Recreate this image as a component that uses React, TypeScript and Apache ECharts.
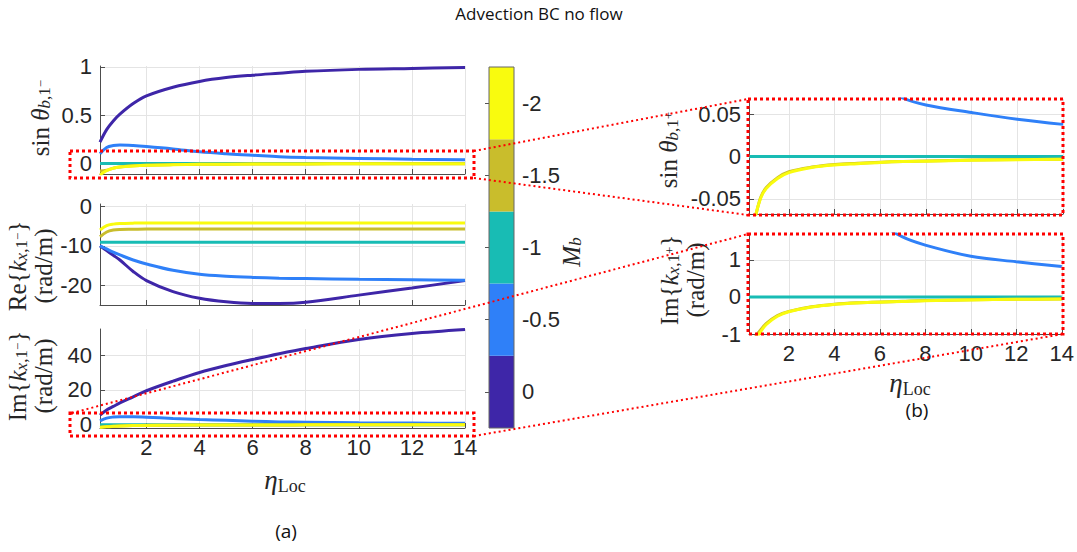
import React, { useEffect, useRef } from 'react';
import * as echarts from 'echarts';

// ---------- data ----------
const etaLoc = [0.25, 0.5, 0.75, 1, 1.5, 2, 3, 4, 5, 6, 7, 8, 10, 12, 14];
const machLevels = [0, -0.5, -1, -1.5, -2];
const machColors = ['#3e26a8', '#2f80f8', '#18bcb4', '#c9bd2c', '#f9fb0e'];

// sin(theta_b,1-)
const sinTheta_M0 = [0.22, 0.35, 0.44, 0.51, 0.62, 0.7, 0.79, 0.85, 0.89, 0.915, 0.935, 0.955, 0.975, 0.985, 0.995];
const sinTheta_M05 = [0.1, 0.165, 0.185, 0.19, 0.185, 0.175, 0.15, 0.12, 0.1, 0.085, 0.069, 0.061, 0.052, 0.044, 0.038];
const sinTheta_M10 = [0, 0, 0, 0, 0, 0, 0, 0, 0, 0, 0, 0, 0, 0, 0];
const sinTheta_M15 = [-0.08, -0.072, -0.049, -0.037, -0.025, -0.018, -0.0125, -0.0095, -0.008, -0.0067, -0.0058, -0.0052, -0.0042, -0.0036, -0.0032];
const sinTheta_M20 = [-0.12, -0.075, -0.05, -0.038, -0.026, -0.019, -0.013, -0.01, -0.0085, -0.007, -0.006, -0.0055, -0.0045, -0.0038, -0.0033];

// Re{k_x,1-} (rad/m)
const reK_M0 = [-10, -11.2, -12.4, -13.6, -16.5, -18.8, -21.6, -23.3, -24.2, -24.6, -24.6, -24.3, -22.5, -20.7, -18.8];
const reK_M05 = [-10, -10.8, -11.6, -12.3, -13.6, -14.6, -16.2, -17.2, -17.7, -18.0, -18.2, -18.3, -18.5, -18.6, -18.7];
const reK_M10 = [-9.1, -9.1, -9.1, -9.1, -9.1, -9.1, -9.1, -9.1, -9.1, -9.1, -9.1, -9.1, -9.1, -9.1, -9.1];
const reK_M15 = [-7.7, -6.5, -6.0, -5.85, -5.8, -5.75, -5.75, -5.75, -5.75, -5.75, -5.75, -5.75, -5.75, -5.75, -5.75];
const reK_M20 = [-6.0, -4.9, -4.5, -4.35, -4.25, -4.2, -4.2, -4.2, -4.2, -4.2, -4.2, -4.2, -4.2, -4.2, -4.2];

// Im{k_x,1-} (rad/m)
const imK_M0 = [5.5, 8.5, 10.5, 12.5, 16, 19.5, 25, 30, 34, 37.5, 40.8, 43.8, 49, 52.4, 54.7];
const imK_M05 = [2.2, 3.8, 4.4, 4.6, 4.6, 4.3, 3.6, 3.0, 2.5, 2.0, 1.62, 1.4, 1.1, 0.95, 0.82];
const imK_M10 = [0, 0, 0, 0, 0, 0, 0, 0, 0, 0, 0, 0, 0, 0, 0];
const imK_M15 = [-1.4, -1.1, -0.9, -0.72, -0.5, -0.39, -0.265, -0.195, -0.157, -0.137, -0.117, -0.098, -0.078, -0.064, -0.054];
const imK_M20 = [-1.6, -1.2, -0.95, -0.75, -0.52, -0.4, -0.27, -0.2, -0.16, -0.14, -0.12, -0.1, -0.08, -0.065, -0.055];

// tick labels
const xTicks = [2, 4, 6, 8, 10, 12, 14];
const sinTicks = [0, 0.5, 1];
const reTicks = [-20, -10, 0];
const imTicks = [0, 20, 40];
const sinZoomTicks = [-0.05, 0, 0.05];
const imZoomTicks = [-1, 0, 1];
const mbTicks = [-2, -1.5, -1, -0.5, 0];

const SANS = '"Liberation Sans", Arial, Helvetica, sans-serif';
const MATH = '"Liberation Serif", "Times New Roman", serif';
const TXT = '#262626';
const AXC = '#4d4d4d';
const GRIDC = '#e4e4e4';
const RED = '#ff0000';
const TICKFS = 22;

const sinSets = [sinTheta_M0, sinTheta_M05, sinTheta_M10, sinTheta_M15, sinTheta_M20];
const reSets = [reK_M0, reK_M05, reK_M10, reK_M15, reK_M20];
const imSets = [imK_M0, imK_M05, imK_M10, imK_M15, imK_M20];

const mathRich = {
  r: { fontFamily: MATH, fontSize: 25, lineHeight: 26, fill: TXT, verticalAlign: 'middle' },
  i: { fontFamily: MATH, fontSize: 25, fontStyle: 'italic', lineHeight: 26, fill: TXT, verticalAlign: 'middle' },
  si: { fontFamily: MATH, fontSize: 17, fontStyle: 'italic', lineHeight: 15, fill: TXT, verticalAlign: 'bottom' },
  sr: { fontFamily: MATH, fontSize: 17, lineHeight: 15, fill: TXT, verticalAlign: 'bottom' },
  sp: { fontFamily: MATH, fontSize: 13, lineHeight: 12, fill: TXT, verticalAlign: 'middle' },
  e: { fontFamily: MATH, fontSize: 27, fontStyle: 'italic', lineHeight: 30, fill: TXT, verticalAlign: 'middle' },
  l: { fontFamily: MATH, fontSize: 18, lineHeight: 18, fill: TXT, verticalAlign: 'bottom' },
};

function xAx(gi: number, showLabels: boolean) {
  return {
    type: 'value', gridIndex: gi, min: 0.25, max: 14,
    axisLine: { show: true, onZero: false, lineStyle: { color: AXC, width: 1 } },
    axisTick: { show: true, inside: true, length: 5, customValues: xTicks, lineStyle: { color: AXC } },
    axisLabel: { show: showLabels, customValues: xTicks, fontSize: TICKFS, color: TXT, fontFamily: SANS, margin: 8 },
    splitLine: { show: true, lineStyle: { color: GRIDC, width: 1 } },
  };
}

function yAx(gi: number, min: number, max: number, ticks: number[]) {
  return {
    type: 'value', gridIndex: gi, min, max,
    axisLine: { show: true, onZero: false, lineStyle: { color: AXC, width: 1 } },
    axisTick: { show: true, inside: true, length: 5, customValues: ticks, lineStyle: { color: AXC } },
    axisLabel: { show: true, customValues: ticks, fontSize: TICKFS, color: TXT, fontFamily: SANS, margin: 8 },
    splitLine: { show: true, lineStyle: { color: GRIDC, width: 1 } },
  };
}

function linesFor(gi: number, sets: number[][]) {
  return sets.map((vals, j) => ({
    type: 'line', name: 'Mb ' + machLevels[j], xAxisIndex: gi, yAxisIndex: gi,
    data: etaLoc.map((x, k) => [x, vals[k]]),
    showSymbol: false, smooth: 0.35, clip: true,
    lineStyle: { color: machColors[j], width: 3 },
    itemStyle: { color: machColors[j] },
    z: 3 + j,
  }));
}

function textEl(x: number, y: number, text: string, opts: any = {}) {
  return {
    type: 'text', x, y, rotation: opts.rotation || 0, z: 50,
    style: {
      text, rich: mathRich, fontFamily: opts.fontFamily || MATH, fontSize: opts.fontSize || 25,
      fill: opts.fill || TXT, align: 'center', verticalAlign: 'middle',
    },
  };
}

function dotBox(x: number, y: number, w: number, h: number) {
  return {
    type: 'rect', z: 100, silent: true,
    shape: { x, y, width: w, height: h },
    style: { fill: 'none', stroke: RED, lineWidth: 3, lineDash: [3, 3] },
  };
}

function dotLine(x1: number, y1: number, x2: number, y2: number) {
  return {
    type: 'line', z: 100, silent: true,
    shape: { x1, y1, x2, y2 },
    style: { stroke: RED, lineWidth: 2, lineDash: [2, 3] },
  };
}

export default function App() {
  const ref = useRef<HTMLDivElement>(null);
  useEffect(() => {
    if (!ref.current) return;
    const chart = echarts.init(ref.current, null, { renderer: 'svg' });
    const grids = [
      { left: 100, top: 66, width: 365, height: 108 },
      { left: 100, top: 204, width: 365, height: 101 },
      { left: 100, top: 329, width: 365, height: 99 },
      { left: 749, top: 99, width: 314, height: 115 },
      { left: 749, top: 234, width: 314, height: 100 },
      { left: 489, top: 67, width: 25, height: 361, show: true, z: 10, borderColor: '#666', borderWidth: 1, backgroundColor: 'transparent' },
    ];
    const option: any = {
      animation: false,
      backgroundColor: '#ffffff',
      grid: grids,
      xAxis: [
        xAx(0, false), xAx(1, false), xAx(2, true), xAx(3, false), xAx(4, true),
        { type: 'value', gridIndex: 5, min: 0, max: 1, show: false },
      ],
      yAxis: [
        yAx(0, -0.11, 1.01, sinTicks),
        yAx(1, -25, 0.6, reTicks),
        yAx(2, -1.9, 55, imTicks),
        yAx(3, -0.068, 0.068, sinZoomTicks),
        yAx(4, -1, 1.7, imZoomTicks),
        {
          type: 'value', gridIndex: 5, min: -2.25, max: 0.25, inverse: true, position: 'right',
          axisLine: { show: false },
          axisTick: { show: true, inside: true, length: 4, customValues: mbTicks, lineStyle: { color: '#555' } },
          axisLabel: { show: true, customValues: mbTicks, fontSize: TICKFS, color: TXT, fontFamily: SANS, margin: 8 },
          splitLine: { show: false },
        },
      ],
      series: [
        ...linesFor(0, sinSets),
        ...linesFor(1, reSets),
        ...linesFor(2, imSets),
        ...linesFor(3, sinSets),
        ...linesFor(4, imSets),
        {
          type: 'line', xAxisIndex: 5, yAxisIndex: 5, data: [], silent: true,
          markArea: {
            silent: true,
            data: machLevels.map((m, j) => [
              { yAxis: m - 0.25, itemStyle: { color: machColors[j], opacity: 1 } },
              { yAxis: m + 0.25 },
            ]),
          },
        },
      ],
      graphic: [
        { type: 'text', x: 539, y: 13, z: 50, style: { text: 'Advection BC no flow', fontFamily: '"Open Sans", sans-serif', fontSize: 17, fill: '#111', align: 'center', verticalAlign: 'middle' } },
        { type: 'text', x: 286, y: 531, z: 50, style: { text: '(a)', fontFamily: '"Open Sans", sans-serif', fontSize: 19, fill: '#111', align: 'center', verticalAlign: 'middle' } },
        { type: 'text', x: 917, y: 410, z: 50, style: { text: '(b)', fontFamily: '"Open Sans", sans-serif', fontSize: 19, fill: '#111', align: 'center', verticalAlign: 'middle' } },
        textEl(40, 118, '{r|sin }{i|θ}{si|b}{sr|,1}{sp|−}', { rotation: Math.PI / 2 }),
        textEl(30, 266, '{r|Re{}{i|k}{si|x}{sr|,1}{sp|−}}\n{r|(rad/m)}', { rotation: Math.PI / 2 }),
        textEl(30, 376, '{r|Im{}{i|k}{si|x}{sr|,1}{sp|−}}\n{r|(rad/m)}', { rotation: Math.PI / 2 }),
        textEl(668, 150, '{r|sin }{i|θ}{si|b}{sr|,1}{sp|+}', { rotation: Math.PI / 2 }),
        textEl(682, 280, '{r|Im{}{i|k}{si|x}{sr|,1}{sp|+}}\n{r|(rad/m)}', { rotation: Math.PI / 2 }),
        textEl(571, 252, '{i|M}{si|b}', { rotation: Math.PI / 2 }),
        textEl(285, 480, '{e|η}{l|Loc}'),
        textEl(910, 383, '{e|η}{l|Loc}'),
        dotBox(70, 151, 404, 27),
        dotBox(70, 413, 404, 23),
        dotBox(748, 99, 315, 116),
        dotBox(748, 234, 315, 100),
        dotLine(474, 151, 748, 99),
        dotLine(474, 178, 748, 215),
        dotLine(72, 413, 748, 234),
        dotLine(474, 436, 1063, 334),
      ],
    };
    chart.setOption(option);
    return () => chart.dispose();
  }, []);
  return (
    <div
      ref={ref}
      style={{ position: 'fixed', left: 0, top: 0, width: 1077, height: 552, background: '#fff' }}
    />
  );
}
